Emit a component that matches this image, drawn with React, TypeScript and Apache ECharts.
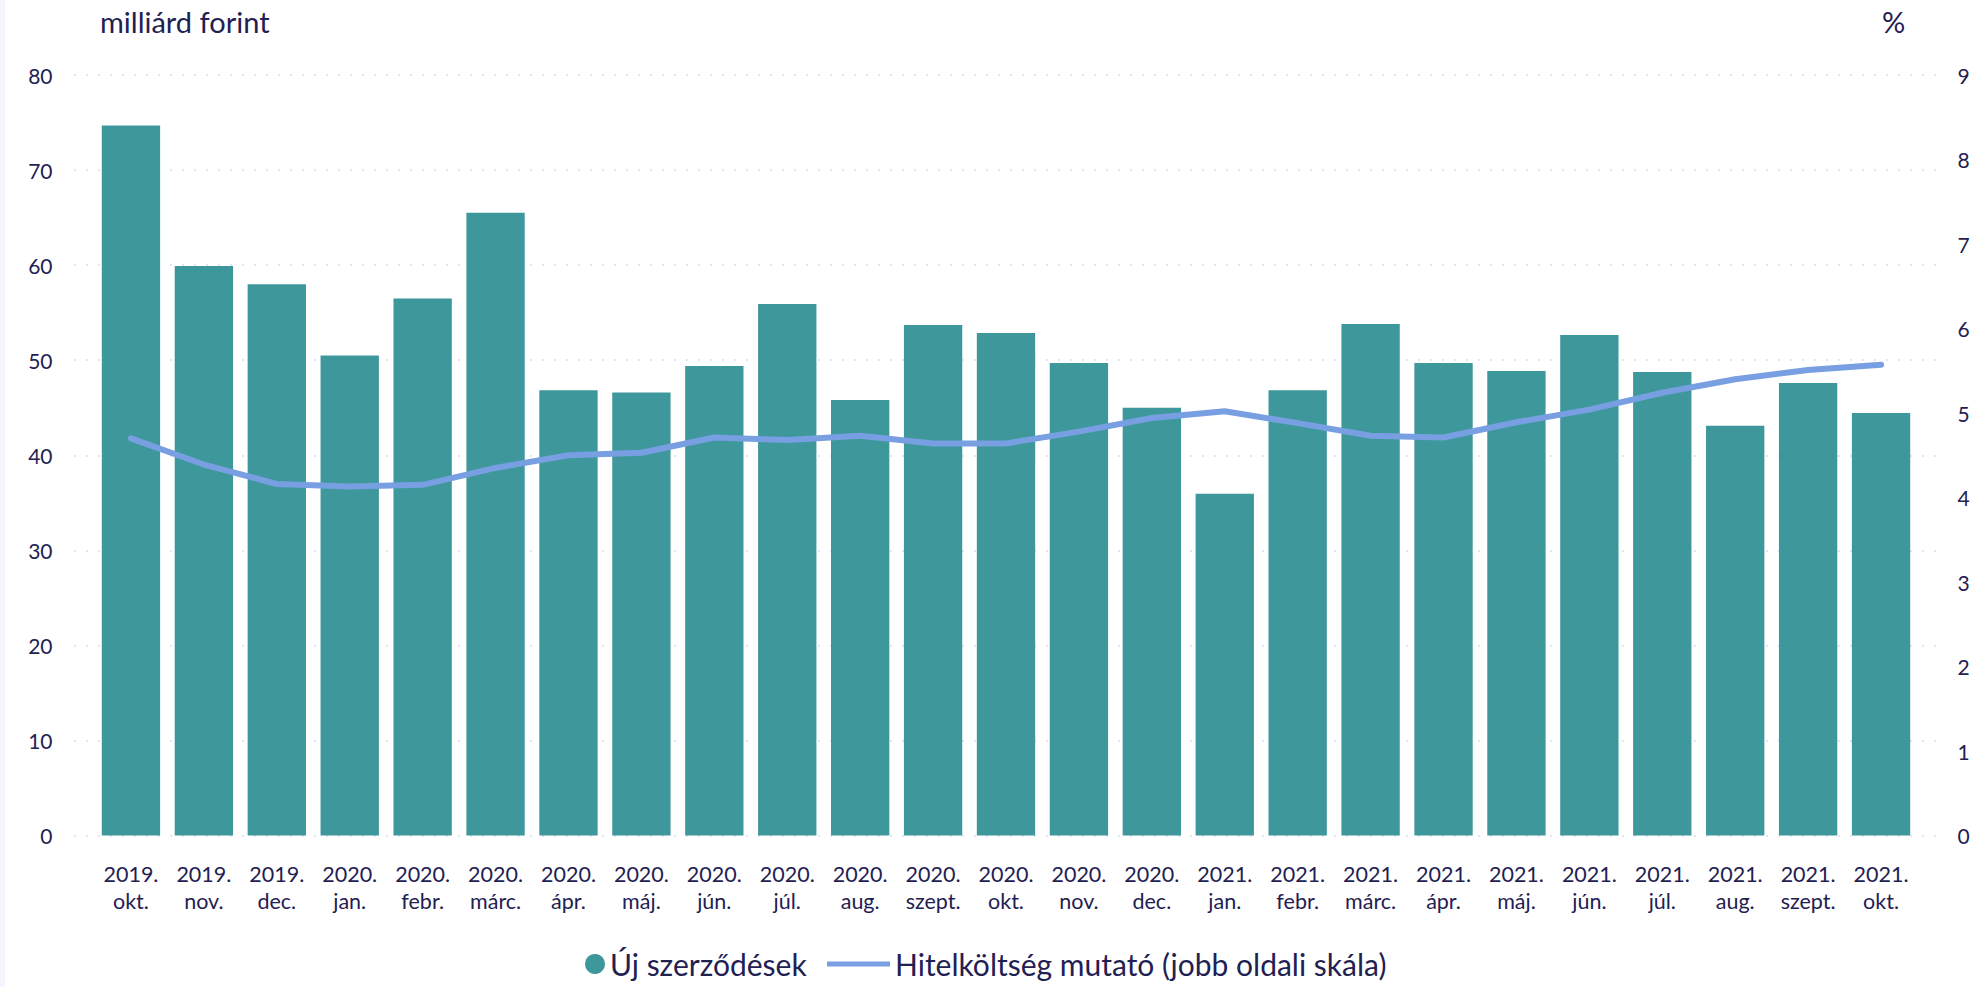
import React, { useEffect, useRef } from "react";
import * as echarts from "echarts";

const categories: string[] = [
  "2019.\nokt.", "2019.\nnov.", "2019.\ndec.",
  "2020.\njan.", "2020.\nfebr.", "2020.\nmárc.", "2020.\nápr.", "2020.\nmáj.", "2020.\njún.",
  "2020.\njúl.", "2020.\naug.", "2020.\nszept.", "2020.\nokt.", "2020.\nnov.", "2020.\ndec.",
  "2021.\njan.", "2021.\nfebr.", "2021.\nmárc.", "2021.\nápr.", "2021.\nmáj.", "2021.\njún.",
  "2021.\njúl.", "2021.\naug.", "2021.\nszept.", "2021.\nokt.",
];

const newContracts: number[] = [
  74.7, 59.9, 58.0, 50.5, 56.5, 65.5, 46.85, 46.6, 49.4, 55.9, 45.8, 53.7, 52.85,
  49.7, 45.0, 35.95, 46.85, 53.8, 49.7, 48.85, 52.65, 48.75, 43.1, 47.6, 44.45,
];

const costIndicator: number[] = [
  4.70, 4.39, 4.16, 4.13, 4.15, 4.35, 4.50, 4.53, 4.71, 4.68, 4.73, 4.64, 4.64,
  4.78, 4.94, 5.02, 4.88, 4.73, 4.71, 4.89, 5.04, 5.24, 5.40, 5.51, 5.57,
];

const seriesNames = ["Új szerződések", "Hitelköltség mutató (jobb oldali skála)"];
const leftAxisName = "milliárd forint";
const rightAxisName = "%";

const TEXT = "#1f2152";
const FONT = "Lato, 'Noto Sans', sans-serif";
const BAR = "#3e989b";
const LINE = "#779fe1";

export default function App() {
  const ref = useRef<HTMLDivElement>(null);
  useEffect(() => {
    if (!ref.current) return;
    const chart = echarts.init(ref.current, undefined, { renderer: "svg" });
    const gridLine = { show: true, lineStyle: { color: "#e3e4f6", width: 2, type: [2, 10] as any } };
    chart.setOption({
      animation: false,
      backgroundColor: "#ffffff",
      textStyle: { fontFamily: FONT },
      grid: [
        { left: 94.5, right: 64.5, top: 75, bottom: 151.5, containLabel: false },
        { left: 74, right: 41, top: 75, bottom: 151.5, containLabel: false },
      ],
      graphic: [
        {
          type: "text",
          left: 100,
          top: 7,
          style: { text: leftAxisName, fontSize: 29, fill: TEXT, fontFamily: FONT },
        },
        {
          type: "text",
          left: 1882,
          top: 7,
          style: { text: rightAxisName, fontSize: 29, fill: TEXT, fontFamily: FONT },
        },
      ],
      legend: [
        {
          data: [{ name: seriesNames[0], icon: "circle" }],
          left: 580,
          top: 944,
          itemWidth: 20,
          itemHeight: 20,
          textStyle: { fontSize: 30, color: TEXT, fontFamily: FONT },
        },
        {
          data: [{ name: seriesNames[1], icon: "rect", itemStyle: { color: LINE } }],
          left: 822,
          top: 944,
          itemWidth: 63,
          itemHeight: 5,
          textStyle: { fontSize: 30, color: TEXT, fontFamily: FONT },
        },
      ],
      xAxis: [
        {
          type: "category",
          data: categories,
          gridIndex: 0,
          axisLine: { show: false },
          axisTick: { show: false },
          axisLabel: {
            interval: 0,
            margin: 25,
            fontSize: 21.5,
            lineHeight: 27,
            color: TEXT,
            fontFamily: FONT,
          },
        },
        {
          type: "value",
          gridIndex: 1,
          show: false,
          splitLine: { show: false },
        },
      ],
      yAxis: [
        {
          type: "value",
          min: 0,
          max: 80,
          interval: 10,
          gridIndex: 0,
          axisLine: { show: false },
          axisTick: { show: false },
          axisLabel: { fontSize: 21, color: TEXT, margin: 42, fontFamily: FONT },
          splitLine: { show: false },
        },
        {
          type: "value",
          min: 0,
          max: 9,
          interval: 1,
          gridIndex: 0,
          position: "right",
          axisLine: { show: false },
          axisTick: { show: false },
          axisLabel: { fontSize: 21, color: TEXT, margin: 40, align: "left", fontFamily: FONT },
          splitLine: { show: false },
        },
        {
          type: "value",
          min: 0,
          max: 80,
          interval: 10,
          gridIndex: 1,
          axisLine: { show: false },
          axisTick: { show: false },
          axisLabel: { show: false },
          splitLine: gridLine,
          z: 0,
        },
      ],
      series: [
        {
          name: seriesNames[0],
          type: "bar",
          data: newContracts,
          barWidth: "80%",
          itemStyle: { color: BAR },
          xAxisIndex: 0,
          yAxisIndex: 0,
          z: 2,
        },
        {
          name: seriesNames[1],
          type: "line",
          data: costIndicator,
          xAxisIndex: 0,
          yAxisIndex: 1,
          symbol: "none",
          showSymbol: false,
          lineStyle: { color: LINE, width: 6, cap: "round", join: "round" },
          itemStyle: { color: LINE },
          z: 5,
        },
      ],
    });
    return () => chart.dispose();
  }, []);

  return (
    <div style={{ position: "absolute", left: 0, top: 0, width: 1982, height: 987, background: "#ffffff" }}>
      <div style={{ position: "absolute", left: 0, top: 0, width: 5, height: 987, background: "#f4f5ff", zIndex: 2 }} />
      <div ref={ref} style={{ position: "absolute", left: 0, top: 0, width: 1982, height: 987 }} />
    </div>
  );
}
